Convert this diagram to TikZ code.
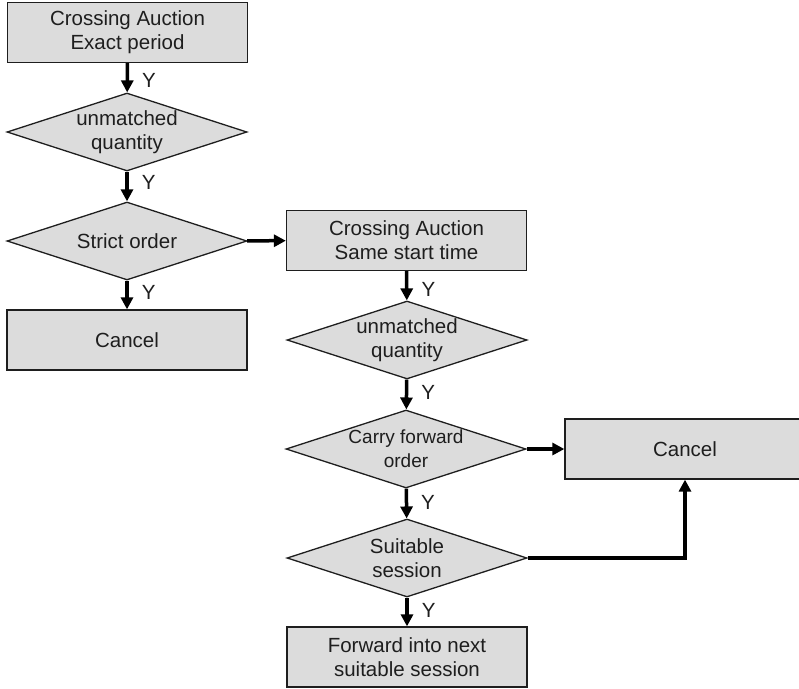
\documentclass[tikz,border=0pt]{standalone}
\usepackage{fontspec}
\setmainfont{Liberation Sans}
\usetikzlibrary{shapes.geometric,arrows.meta}
\definecolor{boxgray}{RGB}{220,220,220}
\definecolor{inkgray}{RGB}{30,30,30}
\begin{document}
\begin{tikzpicture}[x=1pt,y=-1pt,
  stepbox/.style={rectangle,draw=inkgray,line width=1.3pt,fill=boxgray,
    minimum width=240pt,minimum height=60pt,inner sep=0pt,align=center,
    text=inkgray,font=\fontsize{20.5}{24}\selectfont},
  decision/.style={diamond,draw=inkgray,line width=1.3pt,fill=boxgray,
    minimum width=240pt,minimum height=78pt,inner sep=0pt},
  dtext/.style={inner sep=0pt,align=center,text=inkgray,
    font=\fontsize{20.5}{24}\selectfont},
  dsmall/.style={inner sep=0pt,align=center,text=inkgray,
    font=\fontsize{19}{24}\selectfont},
  flow/.style={draw=black,line width=3.5pt,-{Triangle[length=12pt,width=12pt]}},
  ylab/.style={inner sep=0pt,anchor=west,xshift=13pt,text=inkgray,
    font=\fontsize{20.5}{24}\selectfont}
]
\useasboundingbox (0,0) rectangle (799,688);

% left column
\node[stepbox] (b1) at (127.5,32.5) {Crossing Auction\\Exact period};
\node[decision] (d1) at (127,132) {};
\node[dtext] at (d1) {unmatched\\quantity};
\node[decision] (d2) at (127,241) {};
\node[dtext] at (d2) {Strict order};
\node[stepbox] (c1) at (127,340) {Cancel};

% right column
\node[stepbox] (b2) at (406.5,240.5) {Crossing Auction\\Same start time};
\node[decision] (d3) at (407,340) {};
\node[dtext] at (d3) {unmatched\\quantity};
\node[decision] (d4) at (406,449) {};
\node[dsmall] at (d4) {Carry forward\\order};
\node[decision] (d5) at (407,558) {};
\node[dtext] at (d5) {Suitable\\session};
\node[stepbox] (fw) at (407,657) {Forward into next\\suitable session};
\node[stepbox,minimum width=240pt] (c2) at (685,449) {Cancel};

% connectors
\draw[flow] (b1) -- node[ylab,pos=0.6] {Y} (d1);
\draw[flow] (d1) -- node[ylab,pos=0.38] {Y} (d2);
\draw[flow] (d2) -- node[ylab,pos=0.4] {Y} (c1);
\draw[flow] (d2) -- (b2);
\draw[flow] (b2) -- node[ylab,pos=0.64] {Y} (d3);
\draw[flow] (d3) -- node[ylab,pos=0.43] {Y} (d4);
\draw[flow] (d4) -- (c2);
\draw[flow] (d4) -- node[ylab,pos=0.45] {Y} (d5);
\draw[flow] (d5) -- node[ylab,pos=0.43] {Y} (fw);
\draw[flow] (d5.east) -| (c2.south);
\end{tikzpicture}
\end{document}
